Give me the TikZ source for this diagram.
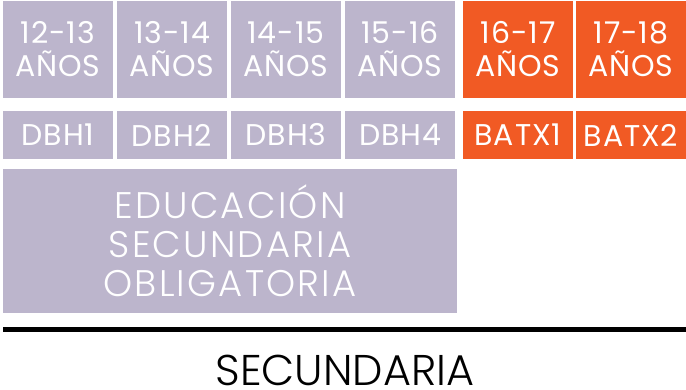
\documentclass[tikz,border=0pt]{standalone}
\usepackage{fontspec}
\setmainfont{Poppins Light}
\newfontfamily\libro[LetterSpace=3]{Poppins}
\newfontfamily\fino[LetterSpace=6]{Poppins Light}
\usepackage{tikz}

\definecolor{lila}{RGB}{188,181,204}
\definecolor{naranja}{RGB}{241,90,36}

\tikzset{
  casilla/.style={inner sep=0pt, text=white, align=center},
  edad/.style={casilla, minimum width=110pt, minimum height=97pt,
    font=\libro\fontsize{30}{33}\selectfont},
  curso/.style={casilla, minimum width=110pt, minimum height=48pt,
    font=\libro\fontsize{30}{33}\selectfont}
}

\begin{document}
\begin{tikzpicture}[x=1pt,y=-1pt]

\useasboundingbox (0,0) rectangle (686,390);

%% edades
\node[edad, fill=lila] (e1) at (58,49.5) {12-13\\AÑOS};
\node[edad, fill=lila] (e2) at (172,49.5) {13-14\\AÑOS};
\node[edad, fill=lila] (e3) at (286,49.5) {14-15\\AÑOS};
\node[edad, fill=lila] (e4) at (400,49.5) {15-16\\AÑOS};
\node[edad, fill=naranja] (e5) at (518,49.5) {16-17\\AÑOS};
\node[edad, fill=naranja] (e6) at (631,49.5) {17-18\\AÑOS};

%% cursos
\node[curso, fill=lila] (c1) at (58,135) {DBH1};
\node[curso, fill=lila] (c2) at (172,135) {DBH2};
\node[curso, fill=lila] (c3) at (286,135) {DBH3};
\node[curso, fill=lila] (c4) at (400,135) {DBH4};
\node[curso, fill=naranja] (c5) at (518,135) {BATX1};
\node[curso, fill=naranja] (c6) at (631,135) {BATX2};

%% etapa
\node[casilla, fill=lila, minimum width=454pt, minimum height=144pt,
  font=\fino\fontsize{37}{39}\selectfont] (eso) at (230,241)
  {EDUCACIÓN\\SECUNDARIA\\OBLIGATORIA};

%% linea
\draw[line width=5pt] (3,330) -- (686,330);
\node[inner sep=0pt, font=\fontsize{43}{45}\selectfont, anchor=base] (sec) at (345,385) {SECUNDARIA};

\end{tikzpicture}
\end{document}
